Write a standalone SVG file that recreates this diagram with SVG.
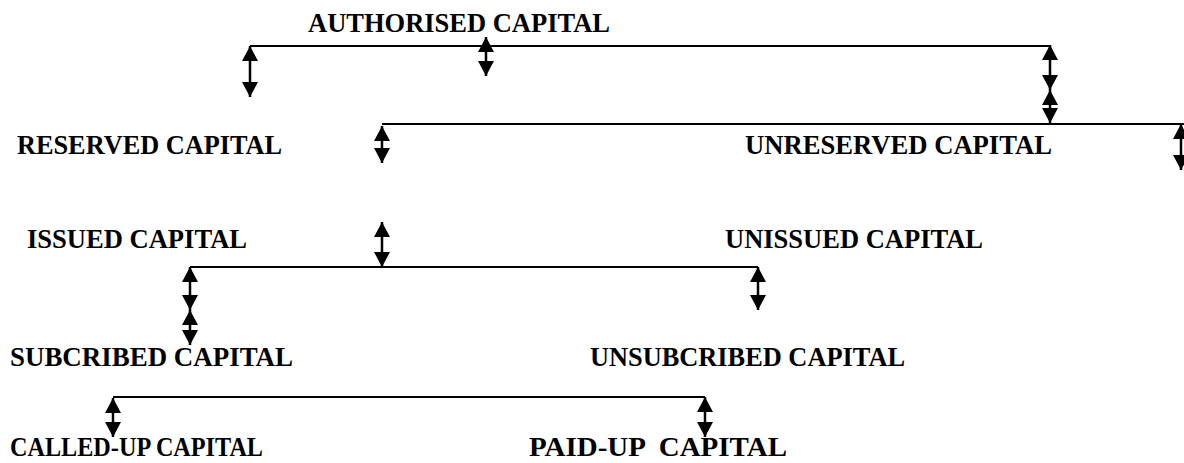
<svg xmlns="http://www.w3.org/2000/svg" width="1184" height="463" viewBox="0 0 1184 463">
<style>
.t{font-family:"Liberation Serif","Times New Roman",serif;font-weight:bold;font-size:28px;fill:#000}
.h{stroke:#000;stroke-width:2;fill:none}
.a{stroke:#000;stroke-width:2.5;fill:none;marker-start:url(#ah);marker-end:url(#ah)}
</style>
<defs>
<marker id="ah" viewBox="0 0 15 16" refX="15" refY="8" markerWidth="15" markerHeight="16" markerUnits="userSpaceOnUse" orient="auto-start-reverse">
<path d="M0,0 L15,8 L0,16 z" fill="#000"/>
</marker>
</defs>
<rect width="1184" height="463" fill="#fff"/>
<g id="authorised"><text class="t" x="308" y="32" textLength="302" lengthAdjust="spacingAndGlyphs">AUTHORISED CAPITAL</text></g>
<g id="reserved"><text class="t" x="17" y="154" textLength="265" lengthAdjust="spacingAndGlyphs">RESERVED CAPITAL</text></g>
<g id="unreserved"><text class="t" x="745" y="154" textLength="307" lengthAdjust="spacingAndGlyphs">UNRESERVED CAPITAL</text></g>
<g id="issued"><text class="t" x="27" y="248" textLength="220" lengthAdjust="spacingAndGlyphs">ISSUED CAPITAL</text></g>
<g id="unissued"><text class="t" x="725" y="248" textLength="258" lengthAdjust="spacingAndGlyphs">UNISSUED CAPITAL</text></g>
<g id="subscribed"><text class="t" x="10" y="366" textLength="283" lengthAdjust="spacingAndGlyphs">SUBCRIBED CAPITAL</text></g>
<g id="unsubscribed"><text class="t" x="590" y="366" textLength="315" lengthAdjust="spacingAndGlyphs">UNSUBCRIBED CAPITAL</text></g>
<g id="calledup"><text class="t" x="10" y="456" textLength="253" lengthAdjust="spacingAndGlyphs">CALLED-UP CAPITAL</text></g>
<g id="paidup"><text class="t" x="529" y="456" textLength="258" lengthAdjust="spacingAndGlyphs" xml:space="preserve">PAID-UP  CAPITAL</text></g>
<g id="connectors">
<line class="h" x1="250" y1="46" x2="1050" y2="46"/>
<line class="h" x1="382" y1="124" x2="1184" y2="124"/>
<line class="h" x1="190" y1="267" x2="758" y2="267"/>
<line class="h" x1="113" y1="397" x2="705" y2="397"/>
<line class="a" x1="250" y1="46" x2="250" y2="97"/>
<line class="a" x1="486" y1="37" x2="486" y2="76"/>
<line class="a" x1="1050" y1="45" x2="1050" y2="90"/>
<line class="a" x1="1050" y1="90" x2="1050" y2="123"/>
<line class="a" x1="1181" y1="124" x2="1181" y2="170"/>
<line class="a" x1="382" y1="126" x2="382" y2="163"/>
<line class="a" x1="382" y1="222" x2="382" y2="267"/>
<line class="a" x1="190" y1="267" x2="190" y2="310"/>
<line class="a" x1="190" y1="310" x2="190" y2="345"/>
<line class="a" x1="758" y1="267" x2="758" y2="310"/>
<line class="a" x1="113" y1="398" x2="113" y2="437"/>
<line class="a" x1="705" y1="397" x2="705" y2="437"/>
</g>
</svg>
